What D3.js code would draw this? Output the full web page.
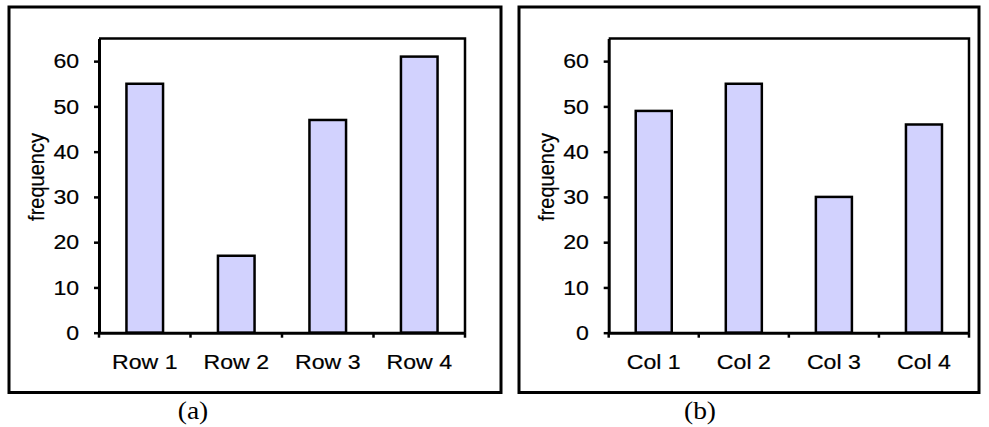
<!DOCTYPE html>
<html>
<head>
<meta charset="utf-8">
<script src="https://cdn.jsdelivr.net/npm/d3@7"></script>
<style>
  body { margin: 0; background: #fff; }
  svg { display: block; }
</style>
</head>
<body>
<script>
// data
var rowCats = ["Row 1", "Row 2", "Row 3", "Row 4"];
var rowFreq = [55, 17, 47, 61];
var colCats = ["Col 1", "Col 2", "Col 3", "Col 4"];
var colFreq = [49, 55, 30, 46];
var yTicks = [0, 10, 20, 30, 40, 50, 60];
var yMax = 65;

// the picture is a bit stretched sideways, so the text is too
var stretch = 1.1;
var sans = "'Liberation Sans', Arial, sans-serif";

var svg = d3.select("body").append("svg")
    .attr("width", 989)
    .attr("height", 427);

// one panel: frame, plot box, bars, axes, caption
function panel(opt) {
    // outer frame
    svg.append("rect")
        .attr("x", opt.frame[0])
        .attr("y", opt.frame[1])
        .attr("width", opt.frame[2] - opt.frame[0])
        .attr("height", opt.frame[3] - opt.frame[1])
        .attr("fill", "none")
        .attr("stroke", "black")
        .attr("stroke-width", 3);

    var x = d3.scaleBand()
        .domain(opt.cats)
        .range([opt.plot[0], opt.plot[2]])
        .paddingInner(0.6)
        .paddingOuter(0.3);

    var y = d3.scaleLinear()
        .domain([0, yMax])
        .range([opt.plot[3], opt.plot[1]]);

    var g = svg.append("g");

    // bars
    g.selectAll(".bar").data(opt.vals).enter()
        .append("rect")
        .attr("class", "bar")
        .attr("x", function(d, i){ return x(opt.cats[i]); })
        .attr("y", function(d){ return y(d); })
        .attr("width", x.bandwidth())
        .attr("height", function(d){ return y(0) - y(d); })
        .attr("fill", "#d2d2fe")
        .attr("stroke", "black")
        .attr("stroke-width", 2.5);

    // plot box (top and right sides)
    g.append("path")
        .attr("d", "M" + x.range()[0] + "," + y(yMax) + "H" + x.range()[1] + "V" + y(0))
        .attr("fill", "none")
        .attr("stroke", "black")
        .attr("stroke-width", 2.5);

    // y axis
    var ya = g.append("g")
        .attr("transform", "translate(" + x.range()[0] + ",0)")
        .call(d3.axisLeft(y).tickValues(yTicks).tickSizeInner(5).tickSizeOuter(0).tickPadding(13));
    ya.select(".domain").attr("stroke-width", 3);
    ya.selectAll(".tick line").attr("stroke-width", 2.5);
    ya.selectAll("text")
        .style("font-family", sans)
        .attr("font-size", 21)
        .attr("fill", "black")
        .attr("stroke", "black")
        .attr("stroke-width", 0.2)
        .attr("transform", "scale(" + stretch + ",1)");

    // x axis, labels at band centres
    var xa = g.append("g")
        .attr("transform", "translate(0," + y(0) + ")")
        .call(d3.axisBottom(x).tickSize(0).tickPadding(21));
    xa.select(".domain").attr("stroke-width", 3);
    xa.selectAll("text")
        .style("font-family", sans)
        .attr("font-size", 21)
        .attr("fill", "black")
        .attr("stroke", "black")
        .attr("stroke-width", 0.2)
        .attr("transform", "scale(" + stretch + ",1)");

    // tick marks on the band boundaries
    var half = (x.step() - x.bandwidth()) / 2;
    var edges = opt.cats.map(function(c){ return x(c) - half; });
    edges.push(x.range()[1]);
    xa.selectAll(".edge").data(edges).enter()
        .append("line")
        .attr("class", "edge")
        .attr("x1", function(d){ return d; })
        .attr("x2", function(d){ return d; })
        .attr("y1", 0)
        .attr("y2", 5)
        .attr("stroke", "black")
        .attr("stroke-width", 2.5);

    // axis title
    svg.append("text")
        .text("frequency")
        .style("font-family", sans)
        .attr("font-size", 20)
        .attr("stroke", "black")
        .attr("stroke-width", 0.2)
        .attr("text-anchor", "middle")
        .attr("transform", "translate(" + opt.titleX + "," + 177 + ") rotate(-90) scale(1," + stretch + ")");

    // caption
    svg.append("text")
        .text(opt.caption)
        .style("font-family", "'Liberation Serif', 'Times New Roman', serif")
        .attr("font-size", 25)
        .attr("text-anchor", "middle")
        .attr("transform", "translate(" + opt.captionX + ",419) scale(" + stretch + ",1)");
}

panel({
    cats: rowCats, vals: rowFreq,
    frame: [9, 7, 501, 392.5],
    plot: [99, 38.5, 465, 332.7],
    titleX: 44, captionX: 193, caption: "(a)"
});

panel({
    cats: colCats, vals: colFreq,
    frame: [519, 7, 979, 392.5],
    plot: [608.7, 38.5, 969, 332.7],
    titleX: 554, captionX: 700, caption: "(b)"
});
</script>
</body>
</html>
